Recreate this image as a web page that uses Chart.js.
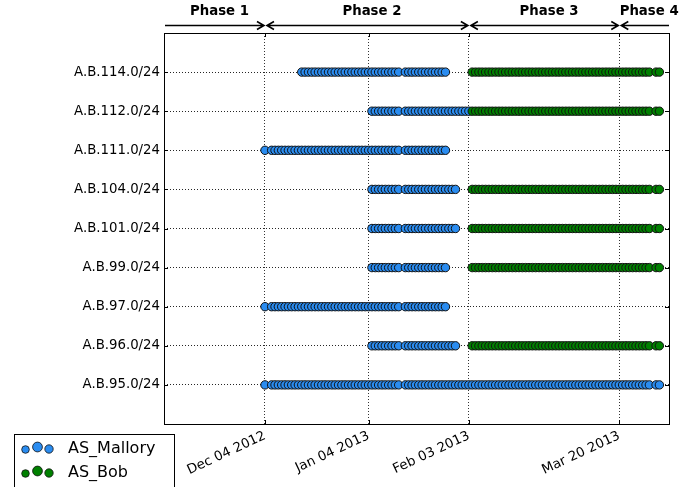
<!DOCTYPE html>
<html>
<head>
<meta charset="utf-8">
<script src="https://cdn.jsdelivr.net/npm/chart.js@4/dist/chart.umd.min.js"></script>
<style>
  html, body { margin: 0; padding: 0; background: #fff; }
  #wrap { width: 699px; height: 487px; position: relative; }
</style>
</head>
<body>
<div id="wrap"><canvas id="c" width="699" height="487"></canvas></div>
<script>
// ---------------- DATA ----------------
// Row labels, bottom (index 0) to top (index 8)
const categories = ['A.B.95.0/24','A.B.96.0/24','A.B.97.0/24','A.B.99.0/24','A.B.101.0/24','A.B.104.0/24','A.B.111.0/24','A.B.112.0/24','A.B.114.0/24'];

// Days on which observations exist (day of month)
const obsDec2012 = [4,6,7,8,9,10,11,12,13,14,15,16,17,18,19,20,21,22,23,24,25,26,27,28,29,30,31];
const obsJan2013 = [1,2,3,4,5,6,7,8,9,10,11,12,13,15,16,17,18,19,20,21,22,23,24,25,26,27,28,29,30,31];
const obsFeb2013 = [1,2,3,4,5,6,7,8,9,10,11,12,13,14,15,16,17,18,19,20,21,22,23,24,25,26,27,28];
const obsMar2013 = [1,2,3,4,5,6,7,8,9,10,11,12,13,14,15,16,17,18,19,20,21,22,23,24,25,26,27,28,29,31];
const obsApr2013 = [1];

// Per-row first / last observed day for each origin AS
const malloryStart = ['2012-12-04','2013-01-05','2012-12-04','2013-01-05','2013-01-05','2013-01-05','2012-12-04','2013-01-05','2012-12-15'];
const malloryEnd   = ['2013-04-01','2013-01-30','2013-01-27','2013-01-27','2013-01-30','2013-01-30','2013-01-27','2013-02-03','2013-01-27'];
const bobStart     = ['',          '2013-02-04','',          '2013-02-04','2013-02-04','2013-02-04','',          '2013-02-04','2013-02-04'];
const bobEnd       = ['',          '2013-04-01','',          '2013-04-01','2013-04-01','2013-04-01','',          '2013-04-01','2013-04-01'];

const seriesNames = ['AS_Mallory','AS_Bob'];
const tickDates  = ['2012-12-04','2013-01-04','2013-02-03','2013-03-20'];
const tickLabels = ['Dec 04 2012','Jan 04 2013','Feb 03 2013','Mar 20 2013'];
const phaseNames  = ['Phase 1','Phase 2','Phase 3','Phase 4'];
const phaseBounds = ['2012-12-04','2013-02-03','2013-03-20'];
const axisStart = '2012-11-03T19';
const axisEnd   = '2013-04-03T21';

// ---------------- BUILD ----------------
function ms(s) {
  const parts = s.split('T');
  const [y, m, d] = parts[0].split('-').map(Number);
  const h = parts[1] ? Number(parts[1]) : 0;
  return Date.UTC(y, m - 1, d, h);
}
const observed = [].concat(
  obsDec2012.map(d => Date.UTC(2012, 11, d)),
  obsJan2013.map(d => Date.UTC(2013, 0, d)),
  obsFeb2013.map(d => Date.UTC(2013, 1, d)),
  obsMar2013.map(d => Date.UTC(2013, 2, d)),
  obsApr2013.map(d => Date.UTC(2013, 3, d))
);
function rowPoints(starts, ends) {
  const out = [];
  categories.forEach((c, i) => {
    if (!starts[i]) return;
    const a = ms(starts[i]), b = ms(ends[i]);
    observed.filter(t => t >= a && t <= b).forEach(t => out.push({ x: t, y: i }));
  });
  return out;
}
const malloryData = rowPoints(malloryStart, malloryEnd);
const bobData = rowPoints(bobStart, bobEnd);
const tickValues = tickDates.map(ms);

const FONT = 'DejaVu Sans';
const BLUE = '#2a8cf0';
const GREEN = '#008000';

// frame + inward ticks
const framePlugin = {
  id: 'frame',
  afterDraw(chart) {
    const { ctx, chartArea: a, scales } = chart;
    ctx.save();
    ctx.strokeStyle = '#000';
    ctx.lineWidth = 1;
    ctx.beginPath();
    scales.x.ticks.forEach(t => {
      const x = Math.round(scales.x.getPixelForValue(t.value)) + 0.5;
      ctx.moveTo(x, a.top); ctx.lineTo(x, a.top + 4);
      ctx.moveTo(x, a.bottom); ctx.lineTo(x, a.bottom - 4);
    });
    scales.y.ticks.forEach(t => {
      const y = Math.round(scales.y.getPixelForValue(t.value)) + 0.5;
      ctx.moveTo(a.left, y); ctx.lineTo(a.left + 4, y);
      ctx.moveTo(a.right, y); ctx.lineTo(a.right - 4, y);
    });
    ctx.stroke();
    ctx.strokeRect(Math.round(a.left) + 0.5, Math.round(a.top) + 0.5, Math.round(a.right - a.left), Math.round(a.bottom - a.top));
    ctx.restore();
  }
};

// phase annotations above the plot
function arrowHead(ctx, x, y, dir) {
  ctx.moveTo(x - dir * 7, y - 4);
  ctx.lineTo(x, y);
  ctx.lineTo(x - dir * 7, y + 4);
}
const phasePlugin = {
  id: 'phases',
  afterDraw(chart) {
    const { ctx, chartArea: a, scales } = chart;
    const xs = scales.x;
    const edges = [a.left].concat(phaseBounds.map(d => xs.getPixelForValue(ms(d)))).concat([a.right]);
    ctx.save();
    ctx.strokeStyle = '#000';
    ctx.lineWidth = 1.6;
    ctx.fillStyle = '#000';
    ctx.font = 'bold 13.3px "' + FONT + '"';
    ctx.textAlign = 'center';
    ctx.textBaseline = 'middle';
    const y = 25.5;
    for (let i = 0; i < phaseNames.length; i++) {
      const l = edges[i] + (i > 0 ? 2 : 1);
      const r = edges[i + 1] - (i < phaseNames.length - 1 ? 1 : 0);
      ctx.beginPath();
      ctx.moveTo(l, y); ctx.lineTo(r, y);
      if (i < phaseNames.length - 1) arrowHead(ctx, r, y, 1);
      if (i > 0) arrowHead(ctx, l, y, -1);
      ctx.stroke();
      ctx.fillText(phaseNames[i], (edges[i] + edges[i + 1]) / 2 + 5, 12);
    }
    ctx.restore();
  }
};

// legend with three scatter markers per entry
const legendPlugin = {
  id: 'customLegend',
  afterDraw(chart) {
    const { ctx } = chart;
    ctx.save();
    ctx.fillStyle = '#fff';
    ctx.fillRect(14.5, 434.5, 160, 60);
    ctx.strokeStyle = '#000';
    ctx.lineWidth = 1;
    ctx.strokeRect(14.5, 434.5, 160, 60);
    const marks = [[25.5, 1.5, 3.8], [37.5, -1, 4.9], [49, 1, 4.2]];
    chart.data.datasets.forEach((ds, k) => {
      const cy = 448 + k * 24;
      marks.forEach(([mx, dy, r]) => {
        ctx.beginPath();
        ctx.arc(mx, cy + dy, r, 0, Math.PI * 2);
        ctx.fillStyle = ds.backgroundColor;
        ctx.fill();
        ctx.lineWidth = 0.8;
        ctx.strokeStyle = '#111';
        ctx.stroke();
      });
      ctx.fillStyle = '#000';
      ctx.font = '16px "' + FONT + '"';
      ctx.textAlign = 'left';
      ctx.textBaseline = 'middle';
      ctx.fillText(ds.label, 68, cy + 1);
    });
    ctx.restore();
  }
};

new Chart(document.getElementById('c'), {
  type: 'scatter',
  data: {
    datasets: [
      { label: seriesNames[0], data: malloryData, backgroundColor: BLUE, borderColor: '#111', borderWidth: 1, pointRadius: 4.2, pointHoverRadius: 4.2, order: 2 },
      { label: seriesNames[1], data: bobData, backgroundColor: GREEN, borderColor: '#111', borderWidth: 1, pointRadius: 4.2, pointHoverRadius: 4.2, order: 1 }
    ]
  },
  options: {
    responsive: false,
    animation: false,
    events: [],
    layout: { padding: { top: 33, right: 30, left: 0, bottom: 0 } },
    plugins: { legend: { display: false }, tooltip: { enabled: false } },
    scales: {
      x: {
        type: 'linear',
        min: ms(axisStart),
        max: ms(axisEnd),
        afterBuildTicks: s => { s.ticks = tickValues.map(v => ({ value: v })); },
        afterFit: s => { s.height = 63; },
        ticks: {
          autoSkip: false,
          minRotation: 25,
          maxRotation: 25,
          padding: 4,
          color: '#000',
          font: { family: FONT, size: 13.3 },
          callback: v => tickLabels[tickValues.indexOf(v)]
        },
        grid: { display: true, drawTicks: false, color: 'rgba(0,0,0,0.8)', lineWidth: 1 },
        border: { display: false, dash: [1, 2] }
      },
      y: {
        type: 'linear',
        min: -1,
        max: 9,
        afterBuildTicks: s => { s.ticks = categories.map((c, i) => ({ value: i })); },
        afterFit: s => { s.width = 164; },
        ticks: {
          padding: 4,
          color: '#000',
          font: { family: FONT, size: 13.3 },
          callback: v => categories[v]
        },
        grid: { display: true, drawTicks: false, color: 'rgba(0,0,0,0.85)', lineWidth: 1 },
        border: { display: false, dash: [1, 2] }
      }
    }
  },
  plugins: [framePlugin, phasePlugin, legendPlugin]
});
</script>
</body>
</html>
